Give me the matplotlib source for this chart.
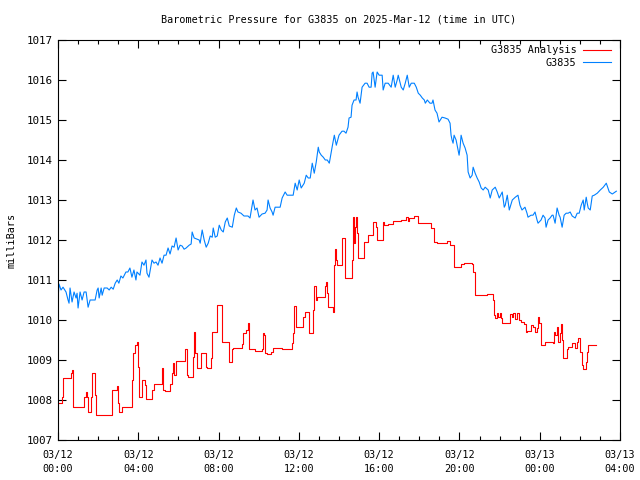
import numpy as np
import matplotlib
matplotlib.use('Agg')
import matplotlib.pyplot as plt
from matplotlib.ticker import MultipleLocator

# minutes after 2025-03-12 00:00 UTC
blue_min = [
    0, 3, 9, 15, 24, 30, 33, 36, 42, 48,
    54, 57, 60, 66, 72, 78, 84, 87, 90, 96,
    111, 117, 120, 123, 129, 132, 138, 147, 153, 159,
    165, 171, 177, 182, 188, 194, 203, 209, 215, 221,
    227, 233, 236, 245, 251, 257, 263, 266, 272, 281,
    287, 293, 299, 305, 311, 317, 323, 329, 335, 341,
    347, 353, 359, 365, 371, 377, 383, 392, 398, 401,
    407, 416, 422, 425, 431, 437, 443, 449, 455, 461,
    464, 470, 476, 482, 488, 494, 500, 506, 512, 521,
    527, 533, 538, 547, 556, 568, 574, 583, 589, 595,
    601, 610, 619, 625, 628, 634, 640, 643, 649, 664,
    670, 679, 685, 703, 709, 715, 721, 727, 736, 742,
    748, 754, 760, 766, 772, 778, 781, 787, 793, 799,
    805, 811, 820, 826, 832, 840, 849, 855, 861, 867,
    870, 876, 879, 885, 891, 894, 897, 903, 909, 918,
    924, 930, 936, 939, 942, 948, 954, 960, 969, 972,
    978, 987, 996, 1002, 1008, 1014, 1017, 1026, 1032, 1038,
    1044, 1050, 1056, 1065, 1071, 1077, 1083, 1089, 1095, 1098,
    1104, 1112, 1118, 1121, 1127, 1133, 1139, 1148, 1157, 1166,
    1172, 1175, 1178, 1181, 1184, 1190, 1196, 1199, 1202, 1205,
    1211, 1217, 1223, 1226, 1232, 1238, 1241, 1247, 1253, 1259,
    1265, 1271, 1277, 1286, 1292, 1298, 1307, 1313, 1319, 1328,
    1334, 1337, 1343, 1349, 1358, 1367, 1375, 1381, 1387, 1396,
    1402, 1405, 1414, 1420, 1426, 1432, 1435, 1444, 1450, 1456,
    1459, 1465, 1471, 1477, 1480, 1486, 1492, 1498, 1501, 1507,
    1513, 1519, 1525, 1531, 1537, 1546, 1552, 1558, 1564, 1570,
    1573, 1579, 1582, 1585, 1591, 1597, 1603, 1612, 1621, 1630,
    1639, 1648, 1657, 1669,
]
blue_mb = [
    1010.50, 1010.90, 1010.75, 1010.82, 1010.70, 1010.50, 1010.42, 1010.80, 1010.45, 1010.70,
    1010.55, 1010.67, 1010.30, 1010.70, 1010.50, 1010.70, 1010.70, 1010.50, 1010.32, 1010.50,
    1010.50, 1010.75, 1010.80, 1010.55, 1010.80, 1010.62, 1010.80, 1010.80, 1010.75, 1010.82,
    1010.77, 1010.92, 1011.00, 1010.92, 1011.10, 1011.05, 1011.20, 1011.20, 1011.30, 1011.07,
    1011.25, 1011.00, 1011.20, 1011.12, 1011.45, 1011.37, 1011.50, 1011.17, 1011.07, 1011.50,
    1011.42, 1011.45, 1011.37, 1011.55, 1011.42, 1011.62, 1011.62, 1011.80, 1011.65, 1011.85,
    1011.82, 1012.05, 1011.75, 1011.87, 1011.85, 1011.77, 1011.80, 1011.87, 1011.90, 1012.20,
    1012.05, 1012.02, 1012.00, 1011.92, 1012.25, 1012.00, 1011.82, 1011.92, 1012.10, 1012.07,
    1012.30, 1012.07, 1012.10, 1012.37, 1012.25, 1012.20, 1012.45, 1012.55, 1012.35, 1012.32,
    1012.62, 1012.80, 1012.70, 1012.67, 1012.60, 1012.60, 1012.55, 1013.00, 1012.75, 1012.80,
    1012.57, 1012.65, 1012.67, 1012.75, 1013.00, 1012.80, 1012.70, 1012.62, 1012.82, 1012.82,
    1013.05, 1013.20, 1013.12, 1013.12, 1013.42, 1013.25, 1013.50, 1013.30, 1013.42, 1013.62,
    1013.55, 1013.55, 1013.92, 1013.67, 1013.95, 1014.32, 1014.20, 1014.12, 1014.07, 1014.00,
    1014.00, 1013.92, 1014.35, 1014.62, 1014.37, 1014.62, 1014.72, 1014.72, 1014.67, 1014.82,
    1015.05, 1015.07, 1015.37, 1015.50, 1015.50, 1015.70, 1015.57, 1015.42, 1015.82, 1015.92,
    1015.92, 1015.82, 1015.82, 1016.17, 1016.20, 1015.82, 1016.20, 1016.12, 1016.12, 1015.75,
    1015.92, 1015.92, 1015.82, 1016.12, 1015.82, 1016.00, 1016.12, 1015.82, 1015.75, 1015.92,
    1016.12, 1015.82, 1015.92, 1015.92, 1015.82, 1015.67, 1015.62, 1015.55, 1015.50, 1015.42,
    1015.50, 1015.42, 1015.42, 1015.50, 1015.25, 1015.17, 1014.95, 1015.07, 1015.05, 1015.02,
    1014.92, 1014.62, 1014.50, 1014.42, 1014.62, 1014.50, 1014.25, 1014.12, 1014.32, 1014.62,
    1014.42, 1014.30, 1014.12, 1013.70, 1013.55, 1013.62, 1013.82, 1013.67, 1013.55, 1013.45,
    1013.30, 1013.25, 1013.32, 1013.25, 1013.05, 1013.25, 1013.32, 1013.20, 1013.05, 1013.20,
    1012.82, 1012.87, 1013.12, 1012.75, 1013.00, 1013.07, 1013.12, 1012.87, 1012.75, 1012.82,
    1012.67, 1012.57, 1012.62, 1012.62, 1012.70, 1012.50, 1012.42, 1012.50, 1012.62, 1012.55,
    1012.32, 1012.50, 1012.55, 1012.62, 1012.62, 1012.42, 1012.80, 1012.62, 1012.57, 1012.32,
    1012.62, 1012.67, 1012.67, 1012.70, 1012.60, 1012.55, 1012.67, 1012.67, 1012.87, 1013.00,
    1012.75, 1013.07, 1012.92, 1012.80, 1012.75, 1013.10, 1013.12, 1013.17, 1013.25, 1013.32,
    1013.42, 1013.20, 1013.15, 1013.22,
]

red_min = [
    0, 12, 15, 39, 42, 45, 78, 84, 87, 90,
    99, 102, 111, 114, 161, 177, 180, 182, 191, 221,
    224, 230, 236, 239, 242, 251, 260, 263, 281, 287,
    311, 314, 320, 335, 341, 344, 347, 353, 380, 386,
    389, 404, 407, 410, 416, 428, 443, 446, 458, 461,
    476, 490, 512, 521, 524, 550, 553, 562, 568, 571,
    589, 610, 613, 616, 619, 625, 637, 643, 670, 700,
    703, 706, 712, 733, 739, 751, 763, 766, 772, 775,
    799, 802, 805, 808, 823, 826, 829, 832, 835, 849,
    858, 879, 882, 885, 888, 891, 894, 897, 915, 927,
    942, 951, 954, 972, 975, 987, 1002, 1026, 1041, 1047,
    1050, 1065, 1077, 1115, 1124, 1133, 1163, 1172, 1184, 1205,
    1214, 1238, 1241, 1247, 1283, 1301, 1304, 1307, 1313, 1316,
    1322, 1325, 1328, 1352, 1358, 1361, 1367, 1373, 1378, 1384,
    1393, 1399, 1402, 1414, 1420, 1426, 1432, 1435, 1438, 1444,
    1456, 1480, 1483, 1486, 1492, 1495, 1501, 1504, 1507, 1510,
    1522, 1525, 1537, 1546, 1552, 1555, 1561, 1567, 1570, 1579,
    1582, 1585, 1609,
]
red_mb = [
    1007.92, 1008.07, 1008.55, 1008.67, 1008.75, 1007.82, 1008.07, 1008.20, 1008.07, 1007.70,
    1008.07, 1008.67, 1008.12, 1007.62, 1008.25, 1008.35, 1007.92, 1007.70, 1007.82, 1008.50,
    1009.17, 1009.37, 1009.45, 1008.82, 1008.07, 1008.50, 1008.37, 1008.02, 1008.25, 1008.40,
    1008.80, 1008.25, 1008.22, 1008.40, 1008.67, 1008.92, 1008.62, 1008.97, 1009.27, 1008.62,
    1008.57, 1009.07, 1009.70, 1009.17, 1008.80, 1009.17, 1008.82, 1008.80, 1009.05, 1009.70,
    1010.37, 1009.45, 1008.95, 1009.27, 1009.30, 1009.40, 1009.67, 1009.75, 1009.92, 1009.27,
    1009.22, 1009.27, 1009.67, 1009.62, 1009.17, 1009.15, 1009.20, 1009.30, 1009.27, 1009.42,
    1009.67, 1010.35, 1009.82, 1010.07, 1010.20, 1009.67, 1010.25, 1010.85, 1010.50, 1010.57,
    1010.85, 1010.95, 1010.67, 1010.32, 1010.20, 1011.37, 1011.77, 1011.50, 1011.37, 1012.05,
    1011.05, 1011.50, 1012.57, 1011.92, 1012.32, 1012.57, 1012.17, 1011.55, 1011.95, 1012.12,
    1012.45, 1012.32, 1012.00, 1012.45, 1012.37, 1012.40, 1012.47, 1012.50, 1012.57, 1012.47,
    1012.55, 1012.60, 1012.42, 1012.30, 1011.95, 1011.92, 1011.97, 1011.87, 1011.32, 1011.40,
    1011.42, 1011.40, 1011.20, 1010.62, 1010.65, 1010.50, 1010.12, 1010.05, 1010.17, 1010.07,
    1010.17, 1010.05, 1009.92, 1010.15, 1010.07, 1010.17, 1010.02, 1010.17, 1010.00, 1009.95,
    1009.90, 1009.70, 1009.72, 1009.87, 1009.82, 1009.70, 1009.80, 1010.07, 1009.92, 1009.37,
    1009.45, 1009.42, 1009.70, 1009.62, 1009.82, 1009.45, 1009.67, 1009.90, 1009.50, 1009.05,
    1009.27, 1009.32, 1009.42, 1009.30, 1009.45, 1009.55, 1009.20, 1008.87, 1008.77, 1008.95,
    1009.20, 1009.37, 1009.37,
]

tick_min = [0, 240, 480, 720, 960, 1200, 1440, 1680]
tick_labels = ['03/12\n00:00', '03/12\n04:00', '03/12\n08:00', '03/12\n12:00',
               '03/12\n16:00', '03/12\n20:00', '03/13\n00:00', '03/13\n04:00']

fs = 7.3
plt.rcParams['font.family'] = ['DejaVu Sans Mono']
plt.rcParams['font.size'] = fs

fig = plt.figure(figsize=(6.4, 4.8), dpi=100)
ax = fig.add_axes([58 / 640, 40 / 480, 562 / 640, 400 / 480])

lw = 0.8
ax.plot(red_min, red_mb, color='#ff0000', lw=lw, drawstyle='steps-post',
        label='G3835 Analysis')
ax.plot(blue_min, blue_mb, color='#0080ff', lw=lw, label='G3835')

ax.set_xlim(0, 1680)
ax.set_ylim(1007, 1017)
ax.set_xticks(tick_min)
ax.set_xticklabels(tick_labels, linespacing=1.55)
ax.xaxis.set_minor_locator(MultipleLocator(60))
ax.yaxis.set_major_locator(MultipleLocator(1))
ax.tick_params(which='both', direction='in', top=True, right=True,
               width=0.8, labelsize=fs)
ax.tick_params(which='major', length=6)
ax.tick_params(which='minor', length=3)
ax.tick_params(axis='x', pad=7)
ax.tick_params(axis='y', labelsize=7.8)
for s in ax.spines.values():
    s.set_linewidth(0.8)

ax.set_ylabel('milliBars', fontsize=fs, labelpad=8)
ax.set_title('Barometric Pressure for G3835 on 2025-Mar-12 (time in UTC)',
             fontsize=fs, pad=12.5)
ax.legend(loc='upper right', bbox_to_anchor=(0.984, 0.987), frameon=False,
          markerfirst=False, fontsize=fs, handlelength=2.8,
          handletextpad=0.6, labelspacing=0.25, borderpad=0,
          borderaxespad=0)

fig.savefig('out.png', dpi=100)
